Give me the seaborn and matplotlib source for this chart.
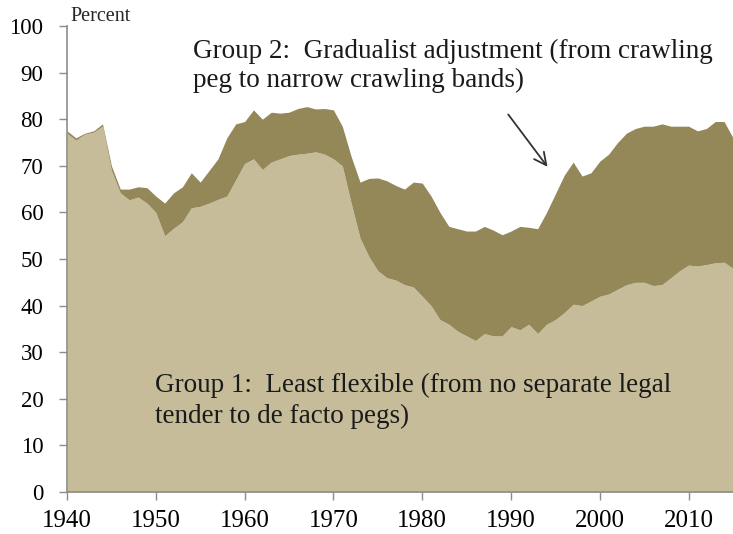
import matplotlib
matplotlib.use("Agg")
import matplotlib.pyplot as plt
import seaborn as sns
import numpy as np

years = list(range(1940, 2016))

group1 = [77, 75.5, 76.8, 77.2, 78.5, 69, 64.2, 62.7, 63.3, 62,
          60, 55, 56.6, 58, 61, 61.3, 62, 62.8, 63.5, 67,
          70.5, 71.5, 69.2, 70.8, 71.5, 72.2, 72.5, 72.7, 73, 72.5,
          71.5, 70, 62, 54.5, 50.5, 47.5, 46, 45.5, 44.5, 44,
          42, 40, 37, 36, 34.5, 33.5, 32.5, 34, 33.5, 33.5,
          35.5, 34.8, 36, 34, 36, 37, 38.5, 40.3, 40, 41,
          42, 42.5, 43.5, 44.5, 45, 45, 44.3, 44.5, 46, 47.5,
          48.7, 48.5, 48.8, 49.2, 49.3, 48]

group2 = [0.5, 0.5, 0.2, 0.3, 0.5, 1.0, 0.8, 2.3, 2.2, 3.3,
          3.5, 7.0, 7.6, 7.5, 7.5, 5.2, 7.0, 8.7, 12.5, 12.0,
          9.0, 10.5, 10.8, 10.7, 9.8, 9.3, 9.8, 10.0, 9.2, 9.8,
          10.5, 8.5, 10.0, 12.0, 16.8, 19.9, 20.8, 20.3, 20.5, 22.5,
          24.3, 23.5, 23.0, 21.0, 22.0, 22.5, 23.5, 23.0, 22.7, 21.7,
          20.5, 22.2, 20.8, 22.5, 24.0, 27.0, 29.5, 30.5, 27.8, 27.5,
          29.0, 30.0, 31.5, 32.5, 33.0, 33.5, 34.2, 34.5, 32.5, 31.0,
          29.8, 29.0, 29.2, 30.3, 30.2, 28.0]

x_ticks = [1940, 1950, 1960, 1970, 1980, 1990, 2000, 2010]
y_ticks = list(range(0, 101, 10))

label1 = "Group 1:  Least flexible (from no separate legal\ntender to de facto pegs)"
label2 = "Group 2:  Gradualist adjustment (from crawling\npeg to narrow crawling bands)"

sns.set_theme(style="white")
plt.rcParams['font.family'] = ['Liberation Serif', 'DejaVu Serif']

W, H = 733, 534
fig = plt.figure(figsize=(W / 100, H / 100), dpi=100)
ax = fig.add_axes([67 / W, (H - 492) / H, (733 - 67) / W, (492 - 26) / H])

c1 = "#c6bc9a"
c2 = "#948858"
ax.stackplot(years, group1, group2, colors=[c1, c2], linewidth=0)

ax.set_xlim(1940, 2015)
ax.set_ylim(0, 100)
ax.set_xticks(x_ticks)
ax.set_yticks(y_ticks)
ax.tick_params(axis='both', which='both', direction='out', length=6, width=1,
               color='#8c8c8c', labelcolor='black')
ax.tick_params(axis='x', bottom=True, pad=7, labelsize=18)
ax.tick_params(axis='y', left=True, pad=11, labelsize=16.5)

for s in ['top', 'right']:
    ax.spines[s].set_visible(False)
for s in ['left', 'bottom']:
    ax.spines[s].set_color('#8c8c8c')
    ax.spines[s].set_linewidth(1.2)
ax.grid(False)

ax.text(0.005, 1.0, "Percent", transform=ax.transAxes, fontsize=14.5,
        ha='left', va='bottom')

ax.text(1949.9, 25.5, label1, fontsize=19.5, ha='left', va='top',
        color='#1a1a1a', linespacing=1.3)
ax.text(1954.2, 97.3, label2, fontsize=19.5, ha='left', va='top',
        color='#1a1a1a', linespacing=1.2)

ax.annotate("", xy=(1994.3, 69.3), xytext=(1989.5, 81.5),
            arrowprops=dict(arrowstyle='->', color='#333333', lw=1.3,
                            mutation_scale=22))

fig.savefig("out.png", dpi=100)
